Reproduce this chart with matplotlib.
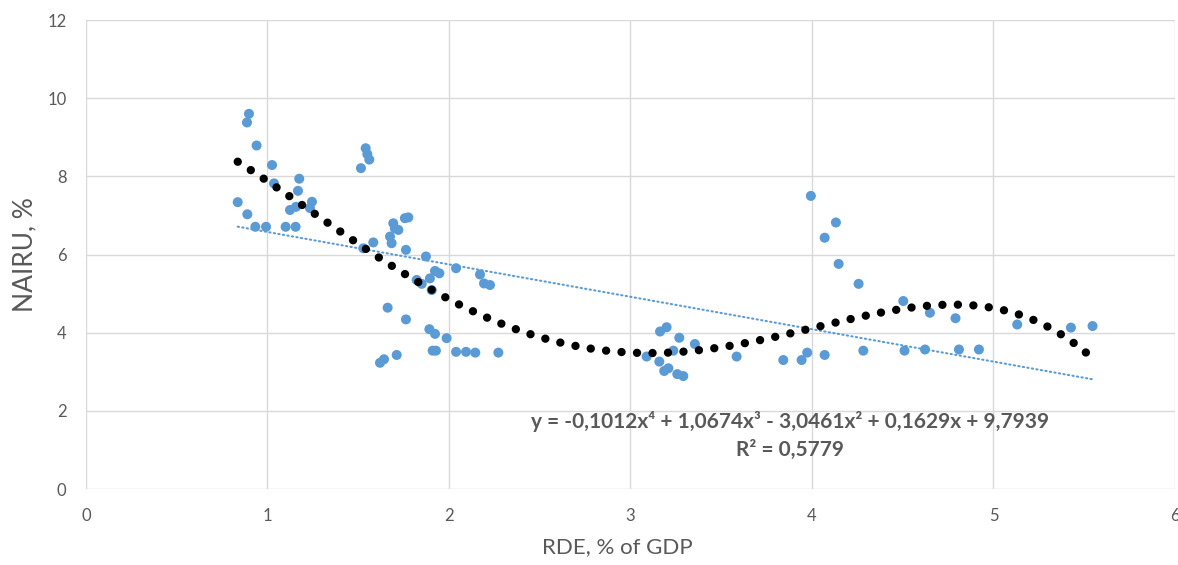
import numpy as np
import matplotlib
matplotlib.use("Agg")
import matplotlib.pyplot as plt

# Scatter data (RDE % of GDP, NAIRU %)
rde = [0.898, 0.887, 0.940, 1.025, 1.036, 1.175, 1.168, 1.245, 1.124, 1.157, 1.234,
       0.836, 0.889, 0.933, 0.992, 1.100, 1.155,
       1.541, 1.550, 1.561, 1.515, 1.583, 1.528,
       1.776, 1.757, 1.693, 1.702, 1.721, 1.675, 1.684, 1.763, 1.873,
       1.923, 1.947, 1.895, 1.822, 1.850, 1.905, 2.039, 2.171, 2.193, 2.226,
       1.662, 1.763, 1.892, 1.923, 1.987, 1.928, 1.910, 2.039, 2.094, 2.145, 2.272,
       1.620, 1.642, 1.712,
       3.163, 3.199, 3.269, 3.355, 3.236, 3.089, 3.159, 3.209, 3.186, 3.258, 3.291, 3.585,
       3.994, 4.132, 4.070, 4.147, 4.257, 4.503, 4.650, 4.791, 5.131, 5.427, 5.546,
       3.842, 3.943, 3.974, 4.070, 4.283, 4.510, 4.623, 4.810, 4.920]
nairu = [9.60, 9.38, 8.79, 8.29, 7.82, 7.94, 7.63, 7.35, 7.14, 7.22, 7.19,
         7.34, 7.03, 6.71, 6.71, 6.71, 6.71,
         8.72, 8.57, 8.43, 8.21, 6.31, 6.16,
         6.95, 6.93, 6.80, 6.67, 6.63, 6.46, 6.29, 6.12, 5.95,
         5.58, 5.52, 5.39, 5.35, 5.25, 5.09, 5.65, 5.49, 5.26, 5.22,
         4.64, 4.34, 4.09, 3.97, 3.86, 3.54, 3.54, 3.51, 3.51, 3.49, 3.49,
         3.23, 3.32, 3.43,
         4.03, 4.14, 3.87, 3.71, 3.54, 3.39, 3.26, 3.09, 3.02, 2.94, 2.89, 3.39,
         7.50, 6.82, 6.43, 5.76, 5.25, 4.81, 4.51, 4.37, 4.21, 4.13, 4.17,
         3.30, 3.30, 3.49, 3.43, 3.54, 3.54, 3.57, 3.57, 3.57]

# Polynomial trendline coefficients as displayed (x^4 ... x^0)
poly_coef = [-0.1012, 1.0674, -3.0461, 0.1629, 9.7939]
eq_text = "y = -0,1012x\u2074 + 1,0674x\u00b3 - 3,0461x\u00b2 + 0,1629x + 9,7939"
r2_text = "R\u00b2 = 0,5779"

x_ticks = [0, 1, 2, 3, 4, 5, 6]
y_ticks = [0, 2, 4, 6, 8, 10, 12]

FONT = ['Lato', 'DejaVu Sans']
GRAY = '#595959'

fig = plt.figure(figsize=(11.78, 5.65), dpi=100)
ax = fig.add_axes([0.073, 0.1345, 0.9244, 0.830])

x = np.array(rde)
y = np.array(nairu)
xs = np.linspace(x.min(), x.max(), 400)

# linear trend (dotted blue)
lin = np.polyfit(x, y, 1)
ax.plot(xs, np.polyval(lin, xs), color='#5B9BD5', lw=1.5,
        linestyle=(0, (0.6, 1.6)), dash_capstyle='round', zorder=2)

ax.scatter(x, y, s=52, color='#5B9BD5', edgecolors='none', zorder=3)

# polynomial trend (black round dots)
ax.plot(xs, np.polyval(poly_coef, xs), color='black', lw=6.0,
        linestyle=(0, (0.01, 1.85)), dash_capstyle='round', zorder=4)

ax.set_xlim(0, 6)
ax.set_ylim(0, 12)
ax.set_xticks(x_ticks)
ax.set_yticks(y_ticks)
ax.grid(True, color='#D9D9D9', lw=1.0, zorder=0)
ax.set_axisbelow(True)
for s in ax.spines.values():
    s.set_visible(False)
ax.tick_params(length=0, labelsize=12, labelcolor=GRAY, pad=14)
for lab in ax.get_xticklabels() + ax.get_yticklabels():
    lab.set_family(FONT)

ax.set_xlabel("RDE, % of GDP", fontsize=16, color=GRAY, family=FONT, va='center')
ax.xaxis.set_label_coords(0.4876, -0.124)
ax.set_ylabel("NAIRU, %", fontsize=19, color=GRAY, family=FONT, va='center')
ax.yaxis.set_label_coords(-0.056, 0.5)

ax.text(3.88, 1.72, eq_text, ha='center', va='center', fontsize=15,
        fontweight='bold', color=GRAY, family=FONT, zorder=5)
ax.text(3.88, 1.0, r2_text, ha='center', va='center', fontsize=15,
        fontweight='bold', color=GRAY, family=FONT, zorder=5)

fig.savefig("out.png", dpi=100)
